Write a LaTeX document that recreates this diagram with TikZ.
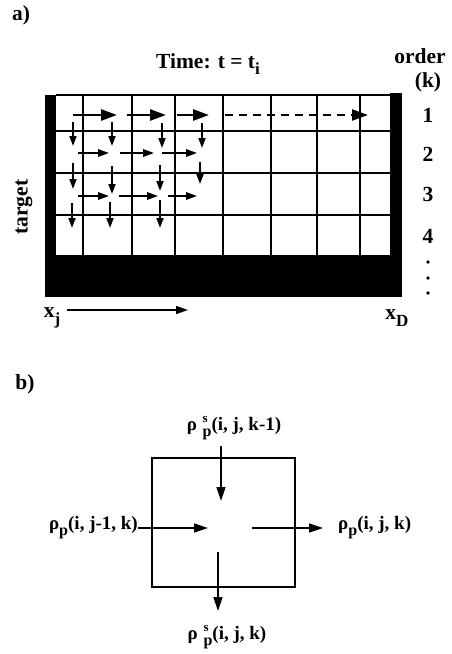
\documentclass[tikz,border=0pt]{standalone}
\usepackage{fontspec}
\setmainfont{Liberation Serif}
\usetikzlibrary{arrows.meta}

% lowered and raised indices in the bold serif face
\newcommand\lowidx[2][15]{\raisebox{-0.32em}{\fontsize{#1}{#1}\selectfont #2}}
\newcommand\rhop{ρ\lowidx[16]{p}}
\newcommand\rhosp{ρ\hspace{0.3em}\rlap{\raisebox{0.45em}{\fontsize{13}{13}\selectfont s}}\lowidx[16]{p}}

\begin{document}
\begin{tikzpicture}[x=1pt,y=-1pt,
  lab/.style={font=\bfseries\fontsize{21.5}{23}\selectfont, inner sep=0pt},
  blab/.style={font=\bfseries\fontsize{19}{21}\selectfont, inner sep=0pt},
  gridline/.style={line width=1.8pt},
  bigarr/.style={line width=2.6pt,-{Triangle[length=16pt,width=11pt]}},
  smarr/.style={line width=1.8pt,-{Triangle[length=11pt,width=7.5pt]}},
  vdown/.style={line width=1.8pt,-{Triangle[length=10pt,width=7pt]}},
  flux/.style={line width=1.6pt,-{Triangle[length=14pt,width=9pt]}}]
\useasboundingbox (0,0) rectangle (452,654);

% ---------------- a) spatial grid at one time step ----------------
\node[lab] (alab) at (21,15) {a)};
\node[lab] (title) at (208,64) {Time: t = t\lowidx[17]{i}};
\node[lab] (ord) at (420,56) {order};
\node[lab] (ordk) at (428,82) {(k)};
\node[lab] (k1) at (428,115) {1};
\node[lab] (k2) at (428,154) {2};
\node[lab] (k3) at (428,194) {3};
\node[lab] (k4) at (428,236) {4};
\foreach \yy in {262,278,293} \fill (428,\yy) circle (1.9pt);
\node[lab,rotate=90] (tgt) at (24,207) {target};

% black walls: entrance, exit and the deep end of the target
\fill (45,95) rectangle (56,297);
\fill (390,93) rectangle (402,297);
\fill (45,255) rectangle (402,297);

% cell grid
\draw[gridline] (56,95) -- (390,95);
\foreach \yy in {131,173,215} \draw[gridline] (56,\yy) -- (390,\yy);
\foreach \xx in {83,132,175,223,271,317,360} \draw[gridline] (\xx,95) -- (\xx,255);

% first order: straight-through transport
\draw[bigarr] (73,115) -- (117,115);
\draw[bigarr] (127,115) -- (166,115);
\draw[bigarr] (177,115) -- (209,115);
\draw[bigarr,line width=2.2pt,dash pattern=on 8pt off 6pt] (225,115) -- (368,115);

% scattering down to the next order
\foreach \xx/\ya/\yb in {73/122/146,112/122/146,162/123/148,202/123/148}
  \draw[vdown] (\xx,\ya) -- (\xx,\yb);
\foreach \xa/\xb in {78/109,120/154,162/197} \draw[smarr] (\xa,153) -- (\xb,153);
\foreach \xx/\ya/\yb in {73/163/189,112/166/194,160/165/191,200/162/184}
  \draw[vdown] (\xx,\ya) -- (\xx,\yb);
\foreach \xa/\xb in {78/109,119/158,168/197} \draw[smarr] (\xa,196) -- (\xb,196);
\foreach \xx/\ya/\yb in {72/203/228,110/202/228,160/200/228}
  \draw[vdown] (\xx,\ya) -- (\xx,\yb);

% depth axis
\node[lab] (xj) at (52,318) {x\lowidx[17]{j}};
\node[lab] (xd) at (397,318) {x\lowidx[17]{D}};
\coordinate (xa) at (67,310);
\coordinate (xb) at (188,310);
\draw[flux,line width=1.5pt,-{Triangle[length=12pt,width=8pt]}] (xa) -- (xb);

% ---------------- b) balance of one cell ----------------
\node[lab] (blab) at (25,384) {b)};
\draw[line width=2.4pt] (152,458) rectangle (295,587);

\node[blab] (fin) at (234,428) {\rhosp(i, j, k-1)};
\node[blab] (fout) at (227,637) {\rhosp(i, j, k)};
\node[blab,anchor=east] (lin) at (138,528) {\rhop(i, j-1, k)};
\node[blab,anchor=west] (rout) at (338,528) {\rhop(i, j, k)};

\coordinate (ta) at (221,446);
\coordinate (tb) at (221,501);
\coordinate (la) at (208,528);
\coordinate (ra) at (252,528);
\coordinate (rb) at (323,528);
\coordinate (ba) at (218,552);
\coordinate (bb) at (218,611);

\draw[flux] (ta) -- (tb);
\draw[flux] (lin.east) -- (la);
\draw[flux] (ra) -- (rb);
\draw[flux] (ba) -- (bb);
\end{tikzpicture}
\end{document}
